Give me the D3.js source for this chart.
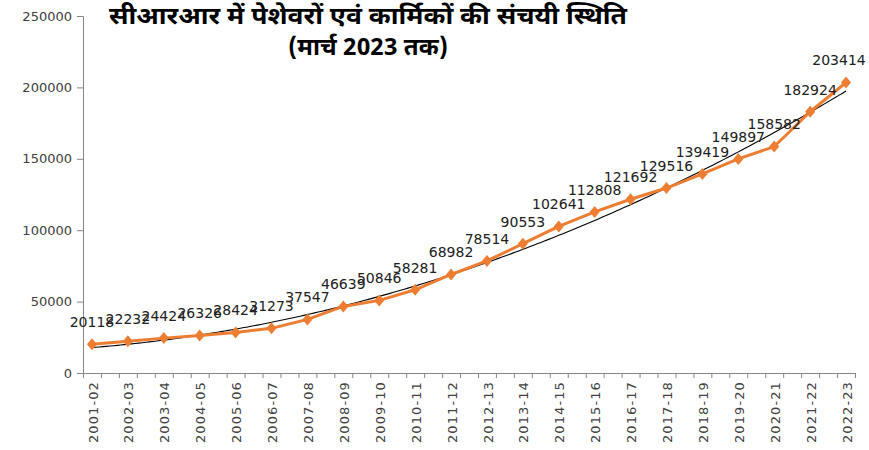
<!DOCTYPE html>
<html><head><meta charset="utf-8">
<script src="https://cdn.jsdelivr.net/npm/d3@7"></script>
<style>body{margin:0;background:#fff}svg{display:block}</style>
</head><body>
<svg id="c" width="869" height="450"></svg>
<script>
const categories = ["2001-02","2002-03","2003-04","2004-05","2005-06","2006-07","2007-08","2008-09","2009-10","2010-11","2011-12","2012-13","2013-14","2014-15","2015-16","2016-17","2017-18","2018-19","2019-20","2020-21","2021-22","2022-23"];
const values = [20118,22232,24424,26326,28424,31273,37547,46639,50846,58281,68982,78514,90553,102641,112808,121692,129516,139419,149897,158582,182924,203414];
const yTicks = [0,50000,100000,150000,200000,250000];
const titleLines = ["सीआरआर में पेशेवरों एवं कार्मिकों की संचयी स्थिति","(मार्च 2023 तक)"];

const svg = d3.select("#c");
const x = d3.scaleLinear().domain([-0.25, categories.length - 0.75]).range([83, 855]);
const y = d3.scaleLinear().domain([0, 250000]).range([373, 16]);
const axisCol = "#868686";
const font = "DejaVu Sans, Verdana, sans-serif";

// Y axis
const ya = svg.append("g").attr("transform","translate(83,0)")
  .call(d3.axisLeft(y).tickValues(yTicks).tickSize(6).tickPadding(5).tickFormat(d3.format("d")));
ya.select(".domain").attr("stroke",axisCol);
ya.selectAll(".tick line").attr("stroke",axisCol);
ya.selectAll("text").attr("font-family",font).attr("font-size",13).attr("fill","#404040");

// X axis
const half = d3.range(0, 2*categories.length).map(k => k*0.5 - 0.25);
const xa = svg.append("g").attr("transform","translate(0,373)")
  .call(d3.axisBottom(x).tickValues(half).tickSize(5).tickFormat(""));
xa.select(".domain").attr("stroke",axisCol);
xa.selectAll(".tick line").attr("stroke",axisCol);
svg.append("g").selectAll("text").data(categories).join("text")
  .attr("transform",(d,i)=>`translate(${x(i)+1},381) rotate(-90)`)
  .attr("text-anchor","end").attr("dy","0.35em")
  .attr("font-family",font).attr("font-size",13).attr("letter-spacing",1.1)
  .attr("fill","#404040").text(d=>d);

// Quadratic trendline (least squares on data)
(function(){
  const n = values.length;
  let S=[0,0,0,0,0], T=[0,0,0];
  values.forEach((v,i)=>{const t=i+1;let p=1;for(let k=0;k<5;k++){S[k]+=p;if(k<3)T[k]+=v*p;p*=t;}});
  const A=[[S[0],S[1],S[2],T[0]],[S[1],S[2],S[3],T[1]],[S[2],S[3],S[4],T[2]]];
  for(let i=0;i<3;i++){for(let j=i+1;j<3;j++){const f=A[j][i]/A[i][i];for(let k=i;k<4;k++)A[j][k]-=f*A[i][k];}}
  const c=[0,0,0];
  for(let i=2;i>=0;i--){let s=A[i][3];for(let k=i+1;k<3;k++)s-=A[i][k]*c[k];c[i]=s/A[i][i];}
  const pts=d3.range(0,n-1+0.001,0.1).map(i=>{const t=i+1;return [x(i),y(c[0]+c[1]*t+c[2]*t*t)];});
  svg.append("path").attr("d",d3.line()(pts)).attr("fill","none").attr("stroke","#000").attr("stroke-width",1.1);
})();

// Series line
const orange = "#ED7D31";
svg.append("path").datum(values)
  .attr("d",d3.line().x((d,i)=>x(i)).y(d=>y(d)))
  .attr("fill","none").attr("stroke",orange).attr("stroke-width",3).attr("stroke-linejoin","round");
svg.append("g").selectAll("path").data(values).join("path")
  .attr("transform",(d,i)=>`translate(${x(i)},${y(d)})`)
  .attr("d","M0,-6L5,0L0,6L-5,0Z").attr("fill",orange);

// Data labels
svg.append("g").selectAll("text").data(values).join("text")
  .attr("x",(d,i)=>Math.min(x(i), 866-27))
  .attr("y",d=>y(d)-22).attr("dy","0.35em")
  .attr("text-anchor","middle").attr("font-family",font).attr("font-size",14)
  .attr("fill","#202020").text(d=>d);

// Title
svg.append("g").selectAll("text").data(titleLines).join("text")
  .attr("x",368).attr("y",(d,i)=>16+i*31).attr("dy","0.35em")
  .attr("text-anchor","middle").attr("font-weight","bold").attr("font-size",24)
  .attr("font-family","'Noto Sans Devanagari','Noto Sans','Lohit Devanagari',sans-serif")
  .attr("textLength",(d,i)=>i===0?518:160).attr("lengthAdjust","spacingAndGlyphs")
  .text(d=>d);
</script>
</body></html>
